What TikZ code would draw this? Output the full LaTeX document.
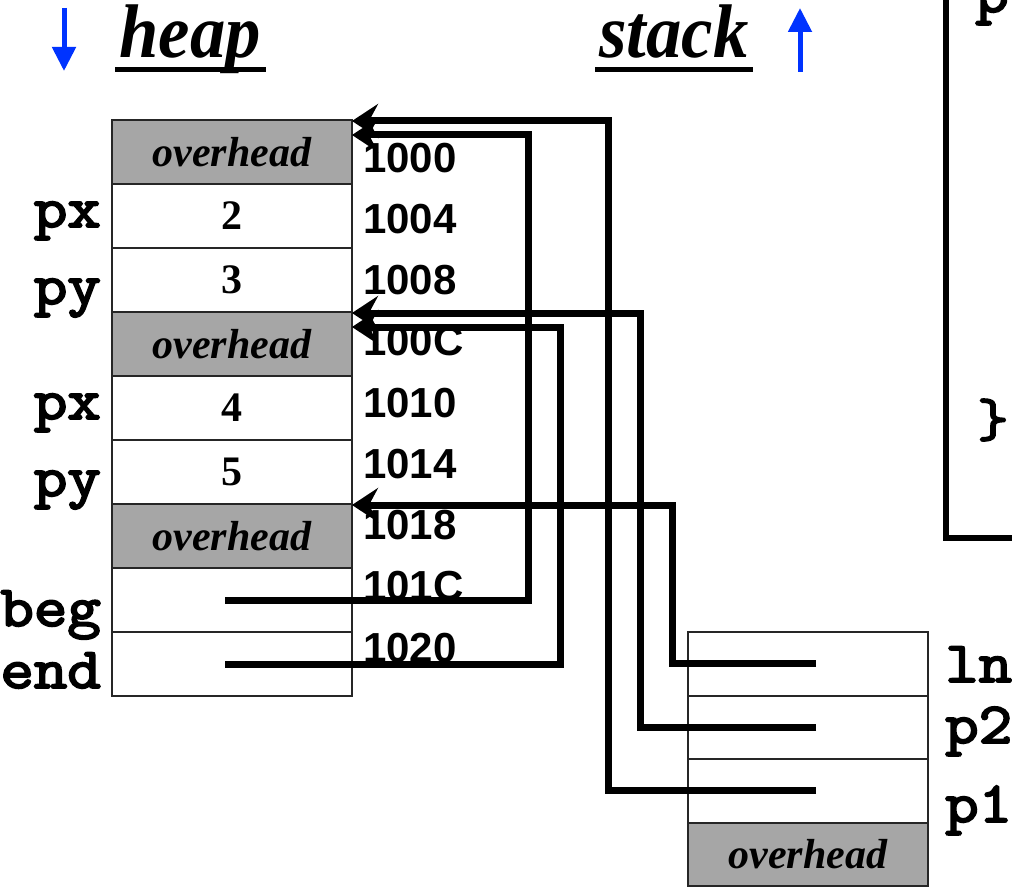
\documentclass[tikz,border=0pt]{standalone}
\usepackage{fontspec}
\usetikzlibrary{arrows.meta}
\newfontfamily\serifface{Liberation Serif}
\newfontfamily\sansface{Liberation Sans}
\newfontfamily\monoface{Latin Modern Mono}[FakeBold=3.2]
\definecolor{cellgray}{RGB}{166,166,166}
\definecolor{dirblue}{RGB}{0,51,255}
\begin{document}
\begin{tikzpicture}[x=1pt,y=-1pt,
  cell/.style={draw=black!85,line width=2pt,minimum width=240pt,minimum height=64pt,
    inner sep=0pt,outer sep=0pt,font=\serifface\bfseries\fontsize{42}{46}\selectfont},
  scell/.style={cell,minimum height=63.5pt},
  ovh/.style={fill=cellgray,font=\serifface\bfseries\itshape\fontsize{42}{46}\selectfont},
  addr/.style={anchor=base west,inner sep=0pt,font=\sansface\bfseries\fontsize{42}{46}\selectfont},
  var/.style={inner sep=0pt,xscale=1.12,font=\monoface\bfseries\fontsize{58}{62}\selectfont},
  title/.style={anchor=base,inner sep=0pt,font=\serifface\bfseries\itshape\fontsize{76}{80}\selectfont},
  ptr/.style={line width=7pt,-{Stealth[length=26pt,width=34pt,inset=9pt]}},
  dir/.style={dirblue,line width=5pt,-{Triangle[length=24pt,width=23pt]}}
]
\useasboundingbox (0,0) rectangle (1012,888);

% headings with growth directions
\node[title,xscale=0.93] (heapT) at (190,58) {heap};
\fill (115,67.5) rectangle (266,72.5);
\node[title,xscale=0.93] (stackT) at (674,58) {stack};
\fill (595,67.5) rectangle (753,72.5);
\draw[dir] (64,8) -- (64,71);
\draw[dir] (800,72) -- (800,8);

% heap cells
\node[cell,ovh] (h0) at (232,152) {overhead};
\node[cell] (h1) at (232,216) {2};
\node[cell] (h2) at (232,280) {3};
\node[cell,ovh] (h3) at (232,344) {overhead};
\node[cell] (h4) at (232,408) {4};
\node[cell] (h5) at (232,472) {5};
\node[cell,ovh] (h6) at (232,536) {overhead};
\node[cell] (h7) at (232,600) {};
\node[cell] (h8) at (232,664) {};

% field names of heap cells
\node[var,anchor=base east] (lpx1) at (101,227) {px};
\node[var,anchor=base east] (lpy1) at (101,304) {py};
\node[var,anchor=base east] (lpx2) at (101,419) {px};
\node[var,anchor=base east] (lpy2) at (101,496) {py};
\node[var,anchor=base east] (lbeg) at (101,626) {beg};
\node[var,anchor=base east] (lend) at (101,688) {end};

% addresses
\foreach \a [count=\i from 0] in {1000,1004,1008,100C,1010,1014,1018,101C,1020}
  \node[addr] (a\i) at (363,{172+61.25*\i}) {\a};

% stack frame
\node[scell] (s0) at (808,663.75) {};
\node[scell] (s1) at (808,727.25) {};
\node[scell] (s2) at (808,790.75) {};
\node[scell,ovh] (s3) at (808,854.25) {overhead};
\node[var,anchor=base west] (lln) at (945,682) {ln};
\node[var,anchor=base west] (lp2) at (945,743) {p2};
\node[var,anchor=base west] (lp1) at (945,822) {p1};

% code box at the right
\draw[line width=5.5pt] (946,-5) -- (946,538) -- (1020,538);
\node[var,anchor=base west] (codep) at (975,12) {p};
\node[var,font=\monoface\bfseries\fontsize{54}{58}\selectfont] (codebr) at (993,420) {\}};

% pointers
\coordinate (t0) at ([yshift=-1pt]h0.north east);
\coordinate (t1) at ([yshift=-15pt]h0.north east);
\coordinate (t3) at ([yshift=-1pt]h3.north east);
\coordinate (t4) at ([yshift=-15pt]h3.north east);
\coordinate (t6) at ([yshift=-1pt]h6.north east);
\draw[ptr] ([xshift=8pt]s2.center) -| (608,121) -- (t0);
\draw[ptr] ([xshift=-7pt]h7.center) -| (528,135) -- (t1);
\draw[ptr] ([xshift=8pt]s1.center) -| (640,313) -- (t3);
\draw[ptr] ([xshift=-7pt]h8.center) -| (560,327) -- (t4);
\draw[ptr] ([xshift=8pt]s0.center) -| (672,505) -- (t6);
\end{tikzpicture}
\end{document}
